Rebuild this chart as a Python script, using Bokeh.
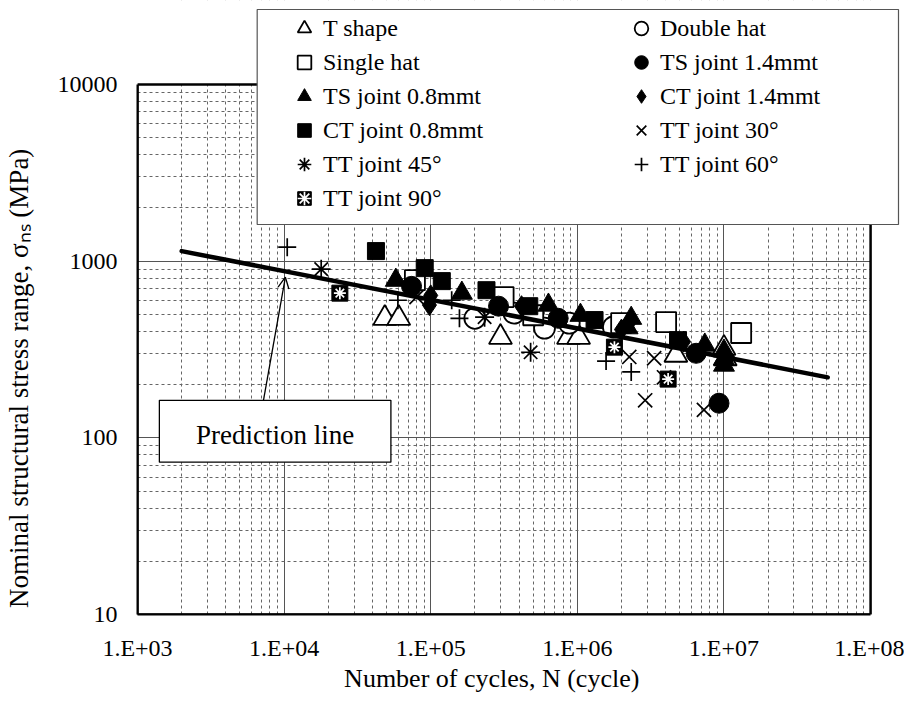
from bokeh.plotting import figure
from bokeh.models import (FixedTicker, CustomJSTickFormatter, Legend, LegendItem,
                          Arrow, OpenHead, BoxAnnotation, Label)
from bokeh.embed import file_html
from bokeh.resources import INLINE

# ---------------- data (cycles, MPa) ----------------
X_TICKS = [1e3, 1e4, 1e5, 1e6, 1e7, 1e8]
Y_TICKS = [10, 100, 1000, 10000]

t_shape_n = [4.86e4, 6.05e4, 2.99e5, 8.7e5, 1.02e6, 4.7e6, 1.0e7, 1.02e7]
t_shape_s = [475, 475, 371, 371, 371, 294, 322, 280]

double_hat_n = [2.0e5, 3.7e5, 5.97e5, 8.8e5, 1.76e6]
double_hat_s = [475, 508, 418, 446, 424]

single_hat_n = [7.8e4, 3.14e5, 5.0e5, 1.99e6, 4.03e6, 1.31e7]
single_hat_s = [780, 626, 494, 446, 452, 392]

ts14_n = [7.4e4, 2.9e5, 7.4e5, 6.46e6, 9.25e6]
ts14_s = [720, 556, 475, 301, 157]

ts08_n = [5.78e4, 1.63e5, 6.35e5, 1.05e6, 2.2e6, 2.33e6, 7.4e6, 1.0e7, 1.0e7, 1.0e7]
ts08_s = [780, 659, 564, 494, 420, 475, 335, 310, 280, 258]

ct14_n = [9.8e4, 1.0e5, 4.16e5, 2.0e6, 2.3e6, 5.3e6]
ct14_s = [564, 640, 556, 410, 460, 350]

ct08_n = [4.23e4, 9.1e4, 1.19e5, 2.4e5, 4.7e5, 1.31e6, 4.86e6]
ct08_s = [1140, 913, 771, 685, 556, 464, 357]

tt30_n = [8.0e4, 2.26e6, 3.34e6, 3.9e6, 2.9e6, 7.3e6]
tt30_s = [626, 287, 282, 220, 163, 144]

tt45_n = [1.79e4, 2.33e5, 4.8e5]
tt45_s = [901, 482, 305]

tt60_n = [1.05e4, 5.97e4, 1.39e5, 1.57e5, 1.57e6, 2.33e6]
tt60_s = [1200, 601, 601, 475, 272, 236]

tt90_n = [2.4e4, 1.79e6, 4.16e6]
tt90_s = [659, 326, 215]

pred_n = [2.0e3, 5.1e7]
pred_s = [1140, 220]

FONT = "Liberation Serif, Times New Roman, serif"
NB = "\u00a0"

# The frame reaches past the chart (up and right) so the legend, which overhangs
# the chart, is not clipped.  1 decade = 147 px on x, 176.67 px on y.
Y_TOP = 10 ** (1 + 614 / 176.67)
X_END = 10 ** (3 + 769 / 147.0)

p = figure(width=904, height=695, x_axis_type="log", y_axis_type="log",
           x_range=(1e3, X_END), y_range=(10, Y_TOP),
           output_backend="svg", toolbar_location=None,
           min_border_left=135, min_border_right=0,
           min_border_top=0, min_border_bottom=81)
p.background_fill_color = "white"
p.border_fill_color = "white"
p.outline_line_color = None

# ticks
x_minor = [k * 10 ** d for d in range(3, 8) for k in range(2, 10)]
y_minor = [k * 10 ** d for d in range(1, 4) for k in range(2, 10)]
xt = FixedTicker(ticks=X_TICKS, minor_ticks=x_minor)
yt = FixedTicker(ticks=Y_TICKS, minor_ticks=y_minor)
p.xaxis.ticker = xt
p.yaxis.ticker = yt
p.xgrid.ticker = xt
p.ygrid.ticker = yt
p.xaxis.formatter = CustomJSTickFormatter(
    code="return '1.E+' + String(Math.round(Math.log10(tick))).padStart(2, '0');")
p.yaxis.formatter = CustomJSTickFormatter(code="return String(Math.round(tick));")

for ax in (p.xaxis, p.yaxis):
    ax.axis_line_color = "black"
    ax.axis_line_width = 2
    ax.major_tick_line_color = None
    ax.minor_tick_line_color = None
    ax.major_label_text_font = FONT
    ax.major_label_text_font_size = "24px"
    ax.major_label_text_color = "black"
    ax.axis_label_text_font = FONT
    ax.axis_label_text_font_style = "normal"
    ax.axis_label_text_color = "black"
p.xaxis.bounds = (1e3, 1e8)
p.yaxis.bounds = (10, 1e4)

p.xaxis.axis_label_text_font_size = "26px"
p.yaxis.axis_label_text_font_size = "27px"
p.xaxis.major_label_standoff = 14
p.xaxis.axis_label_standoff = 0
p.yaxis.major_label_standoff = 14
p.yaxis.axis_label_standoff = 21
p.xaxis.axis_label = "Number of cycles,  N (cycle)" + NB * 8
p.yaxis.axis_label = "Nominal structural stress range,  \u03c3\u2099\u209b (MPa)" + NB * 20

for g in (p.xgrid, p.ygrid):
    g.grid_line_color = "#555555"
    g.grid_line_width = 1
    g.minor_grid_line_color = "#666666"
    g.minor_grid_line_width = 1
    g.minor_grid_line_dash = "3 3"

# ---------------- markers ----------------
open_kw = dict(fill_color="white", line_color="black", line_width=1.8)
r_t = p.scatter(t_shape_n, t_shape_s, marker="triangle", size=23, **open_kw)
r_dh = p.scatter(double_hat_n, double_hat_s, marker="circle", size=21, **open_kw)
r_sh = p.scatter(single_hat_n, single_hat_s, marker="square", size=20, **open_kw)
r_ts14 = p.scatter(ts14_n, ts14_s, marker="circle", size=20, fill_color="black", line_color="black")
r_ts08 = p.scatter(ts08_n, ts08_s, marker="triangle", size=21, fill_color="black", line_color="black")
r_ct14 = p.scatter(ct14_n, ct14_s, marker="diamond", size=21, fill_color="black", line_color="black")
r_ct08 = p.scatter(ct08_n, ct08_s, marker="square", size=17, fill_color="black", line_color="black")
r_30 = p.scatter(tt30_n, tt30_s, marker="x", size=20, line_color="black", line_width=1.7)
r_45 = p.scatter(tt45_n, tt45_s, marker="asterisk", size=19, line_color="black", line_width=1.7)
r_60 = p.scatter(tt60_n, tt60_s, marker="cross", size=18, line_color="black", line_width=1.7)
r_90a = p.scatter(tt90_n, tt90_s, marker="square", size=16, fill_color="black", line_color="black")
r_90b = p.scatter(tt90_n, tt90_s, marker="asterisk", size=12, line_color="white", line_width=1.7)

p.line(pred_n, pred_s, line_color="black", line_width=4.5, line_cap="round")

# white area outside the chart (above and right), then the chart border
p.add_layout(BoxAnnotation(left=1e2, right=1e10, bottom=1e4, top=1e7,
                           fill_color="white", fill_alpha=1.0, line_color=None))
p.add_layout(BoxAnnotation(left=1e8, right=1e10, bottom=1, top=1e7,
                           fill_color="white", fill_alpha=1.0, line_color=None))
p.add_layout(BoxAnnotation(left=1e3, right=1e8, bottom=10, top=1e4,
                           fill_alpha=0.0, line_color="black", line_width=2.5,
                           line_alpha=1.0))

# ---------------- prediction line callout ----------------
p.add_layout(Arrow(end=OpenHead(size=11, line_width=1.3, line_color="black"),
                   x_start=7200, y_start=160, x_end=1.02e4, y_end=811,
                   line_width=1.3, line_color="black"))
p.add_layout(BoxAnnotation(left=1410, right=5.35e4, bottom=72.8, top=163,
                           fill_color="white", fill_alpha=1.0,
                           line_color="black", line_width=1.3, line_alpha=1.0))
p.add_layout(Label(x=8690, y=103.5, text="Prediction line", text_align="center",
                   text_baseline="middle", text_font=FONT, text_font_size="27px",
                   text_color="black"))

# ---------------- legend ----------------
p.add_layout(BoxAnnotation(left=6551, right=1.55e8, bottom=1613, top=26580,
                           fill_color="white", fill_alpha=1.0,
                           line_color="#555555", line_width=1.2, line_alpha=1.0))

left_items = [LegendItem(label="T shape", renderers=[r_t]),
              LegendItem(label="Single hat", renderers=[r_sh]),
              LegendItem(label="TS joint 0.8mmt", renderers=[r_ts08]),
              LegendItem(label="CT joint 0.8mmt", renderers=[r_ct08]),
              LegendItem(label="TT joint 45\u00b0", renderers=[r_45]),
              LegendItem(label="TT joint 90\u00b0", renderers=[r_90a, r_90b])]
right_items = [LegendItem(label="Double hat", renderers=[r_dh]),
               LegendItem(label="TS joint 1.4mmt", renderers=[r_ts14]),
               LegendItem(label="CT joint 1.4mmt", renderers=[r_ct14]),
               LegendItem(label="TT joint 30\u00b0", renderers=[r_30]),
               LegendItem(label="TT joint 60\u00b0", renderers=[r_60])]

leg_kw = dict(glyph_width=34, glyph_height=34, label_standoff=2, padding=6,
              spacing=0, margin=0, border_line_color=None, background_fill_alpha=0.0,
              label_text_font=FONT, label_text_font_size="24px",
              label_text_color="black")
leg1 = Legend(items=left_items, location=(150, 399), **leg_kw)
leg2 = Legend(items=right_items, location=(487, 433), **leg_kw)
p.add_layout(leg1)
p.add_layout(leg2)

open("out.html", "w").write(file_html(p, INLINE))
